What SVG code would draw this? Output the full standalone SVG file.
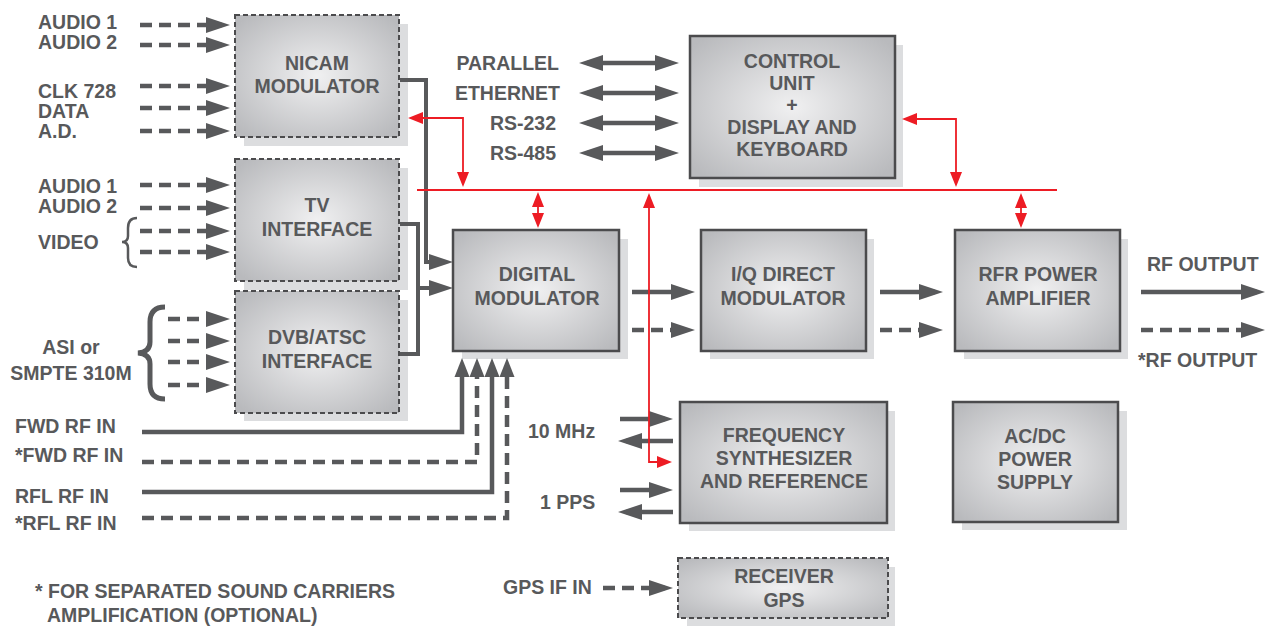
<svg xmlns="http://www.w3.org/2000/svg" width="1266" height="626" viewBox="0 0 1266 626">
<defs>
<radialGradient id="g" cx="50%" cy="50%" r="65%">
<stop offset="0" stop-color="#f0f0f1"/>
<stop offset="1" stop-color="#b9babd"/>
</radialGradient>
<marker id="ah" markerUnits="userSpaceOnUse" markerWidth="24" markerHeight="16" refX="16" refY="8" orient="auto-start-reverse" overflow="visible">
<path d="M0,0 L24,8 L0,16 z" fill="#58595b"/>
</marker>
<marker id="as" markerUnits="userSpaceOnUse" markerWidth="19" markerHeight="15" refX="12" refY="7.5" orient="auto" overflow="visible">
<path d="M0,0 L19,7.5 L0,15 z" fill="#58595b"/>
</marker>
<marker id="rh" markerUnits="userSpaceOnUse" markerWidth="15" markerHeight="12" refX="12" refY="6" orient="auto-start-reverse" overflow="visible">
<path d="M0,0 L15,6 L0,12 z" fill="#ed1c24"/>
</marker>
</defs>
<style>
text{font-family:"Liberation Sans",Arial,sans-serif;font-weight:bold;font-size:19.5px;fill:#58595b}
.c{text-anchor:middle}
.e{text-anchor:end}
.box{fill:url(#g);stroke:#4b4b4d;stroke-width:2.5}
.dbox{fill:url(#g);stroke:#4b4b4d;stroke-width:2;stroke-dasharray:5 3}
.sh{fill:#dcdddf}
.s{fill:none;stroke:#58595b;stroke-width:4.5}
.d{fill:none;stroke:#58595b;stroke-width:4.5;stroke-dasharray:12 7}
.b{fill:none;stroke:#58595b;stroke-width:4}
.a{marker-end:url(#ah)}
.aa{marker-start:url(#ah);marker-end:url(#ah)}
.au{marker-end:url(#as)}
.r{fill:none;stroke:#ed1c24;stroke-width:1.8}
.rr{marker-start:url(#rh);marker-end:url(#rh)}
.re{marker-end:url(#rh)}
</style>
<rect width="1266" height="626" fill="#ffffff"/>

<g id="nicam">
<rect class="sh" x="244" y="24" width="164" height="122"/>
<rect class="dbox" x="235" y="15" width="164" height="122"/>
<text class="c" x="317" y="70">NICAM</text>
<text class="c" x="317" y="93">MODULATOR</text>
</g>
<g id="tv">
<rect class="sh" x="244" y="168" width="164" height="122"/>
<rect class="dbox" x="235" y="159" width="164" height="122"/>
<text class="c" x="317" y="212">TV</text>
<text class="c" x="317" y="236">INTERFACE</text>
</g>
<g id="dvb">
<rect class="sh" x="244" y="300" width="164" height="121"/>
<rect class="dbox" x="235" y="291" width="164" height="122"/>
<text class="c" x="317" y="344">DVB/ATSC</text>
<text class="c" x="317" y="368">INTERFACE</text>
</g>
<g id="control">
<rect class="sh" x="699" y="45" width="204" height="142"/>
<rect class="box" x="690" y="36" width="205" height="142"/>
<text class="c" x="792" y="68">CONTROL</text>
<text class="c" x="792" y="90">UNIT</text>
<text class="c" x="792" y="112">+</text>
<text class="c" x="792" y="134">DISPLAY AND</text>
<text class="c" x="792" y="156">KEYBOARD</text>
</g>
<g id="digital">
<rect class="sh" x="462" y="239" width="166" height="120"/>
<rect class="box" x="453" y="230" width="166" height="121"/>
<text class="c" x="537" y="281">DIGITAL</text>
<text class="c" x="537" y="305">MODULATOR</text>
</g>
<g id="iq">
<rect class="sh" x="710" y="239" width="164" height="120"/>
<rect class="box" x="701" y="230" width="165" height="121"/>
<text class="c" x="783" y="281">I/Q DIRECT</text>
<text class="c" x="783" y="305">MODULATOR</text>
</g>
<g id="rfr">
<rect class="sh" x="964" y="239" width="164" height="120"/>
<rect class="box" x="955" y="230" width="165" height="121"/>
<text class="c" x="1038" y="281">RFR POWER</text>
<text class="c" x="1038" y="305">AMPLIFIER</text>
</g>
<g id="freq">
<rect class="sh" x="689" y="411" width="206" height="120"/>
<rect class="box" x="680" y="402" width="207" height="121"/>
<text class="c" x="784" y="442">FREQUENCY</text>
<text class="c" x="784" y="465">SYNTHESIZER</text>
<text class="c" x="784" y="488">AND REFERENCE</text>
</g>
<g id="acdc">
<rect class="sh" x="962" y="411" width="165" height="119"/>
<rect class="box" x="953" y="402" width="165" height="120"/>
<text class="c" x="1035" y="443">AC/DC</text>
<text class="c" x="1035" y="466">POWER</text>
<text class="c" x="1035" y="489">SUPPLY</text>
</g>
<g id="gps">
<rect class="sh" x="687" y="567" width="208" height="59"/>
<rect class="dbox" x="678" y="558" width="210" height="60"/>
<text class="c" x="784" y="583">RECEIVER</text>
<text class="c" x="784" y="607">GPS</text>
</g>

<g id="labels">
<text x="38" y="29">AUDIO 1</text>
<text x="38" y="49">AUDIO 2</text>
<text x="38" y="98">CLK 728</text>
<text x="38" y="118">DATA</text>
<text x="38" y="138">A.D.</text>
<text x="38" y="193">AUDIO 1</text>
<text x="38" y="213">AUDIO 2</text>
<text x="38" y="249">VIDEO</text>
<text class="c" x="71" y="354">ASI or</text>
<text class="c" x="71" y="380">SMPTE 310M</text>
<text x="15" y="433">FWD RF IN</text>
<text x="15" y="462">*FWD RF IN</text>
<text x="15" y="503">RFL RF IN</text>
<text x="15" y="530">*RFL RF IN</text>
<text x="35" y="598">* FOR SEPARATED SOUND CARRIERS</text>
<text x="47" y="622">AMPLIFICATION (OPTIONAL)</text>
<text class="e" x="559" y="70">PARALLEL</text>
<text class="e" x="560" y="100">ETHERNET</text>
<text class="e" x="556" y="130">RS-232</text>
<text class="e" x="556" y="160">RS-485</text>
<text x="1147" y="271">RF OUTPUT</text>
<text x="1138" y="367">*RF OUTPUT</text>
<text x="528" y="438">10 MHz</text>
<text x="540" y="509">1 PPS</text>
<text x="503" y="594">GPS IF IN</text>
</g>

<g id="connectors">
<path class="d a" d="M140,25 H222"/>
<path class="d a" d="M140,45 H222"/>
<path class="d a" d="M140,86 H222"/>
<path class="d a" d="M140,108 H222"/>
<path class="d a" d="M140,131 H222"/>
<path class="d a" d="M140,185 H222"/>
<path class="d a" d="M140,208 H222"/>
<path class="d a" d="M140,231 H222"/>
<path class="d a" d="M140,252 H222"/>
<path class="d a" d="M168,319 H222"/>
<path class="d a" d="M168,341 H222"/>
<path class="d a" d="M168,362 H222"/>
<path class="d a" d="M168,385 H222"/>
<path fill="none" stroke="#58595b" stroke-width="2.5" d="M137,218 Q128,218 128,228 V236 Q128,242 122,242 Q128,242 128,248 V258 Q128,267 137,267"/>
<path fill="none" stroke="#58595b" stroke-width="5" d="M165,307 Q150,307 150,322 V342 Q150,352 138,353 Q150,354 150,364 V384 Q150,399 165,399"/>
<path class="b a" d="M400,80 H426 V262 H445"/>
<path class="b" d="M400,224 H418 V354 H400"/>
<path class="b a" d="M418,288 H445"/>
<path class="s aa" d="M587,63 H671"/>
<path class="s aa" d="M587,93 H671"/>
<path class="s aa" d="M587,123 H671"/>
<path class="s aa" d="M587,153 H671"/>
<path class="s a" d="M632,292 H687"/>
<path class="d a" d="M632,330 H687"/>
<path class="s a" d="M880,292 H935"/>
<path class="d a" d="M880,330 H935"/>
<path class="s a" d="M1141,292 H1257"/>
<path class="d a" d="M1141,330 H1257"/>
<path class="s a" d="M620,419 H665"/>
<path class="s a" d="M673,441 H626"/>
<path class="s a" d="M620,490 H665"/>
<path class="s a" d="M673,512 H626"/>
<path class="d a" d="M603,588 H665"/>
<path class="s au" d="M142,432 H462 V365"/>
<path class="d au" stroke-dasharray="14 8" d="M142,462 H477 V365"/>
<path class="s au" d="M142,492 H492 V365"/>
<path class="d au" stroke-dasharray="14 8" d="M142,518 H507 V365"/>
<path class="r" d="M417,190 H1057"/>
<path class="r rr" d="M411,118 H463 V184"/>
<path class="r rr" d="M538,195 V225"/>
<path class="r rr" d="M649,196 V462 H669"/>
<path class="r rr" d="M905,119 H956 V184"/>
<path class="r rr" d="M1021,196 V225"/>
</g>
</svg>
